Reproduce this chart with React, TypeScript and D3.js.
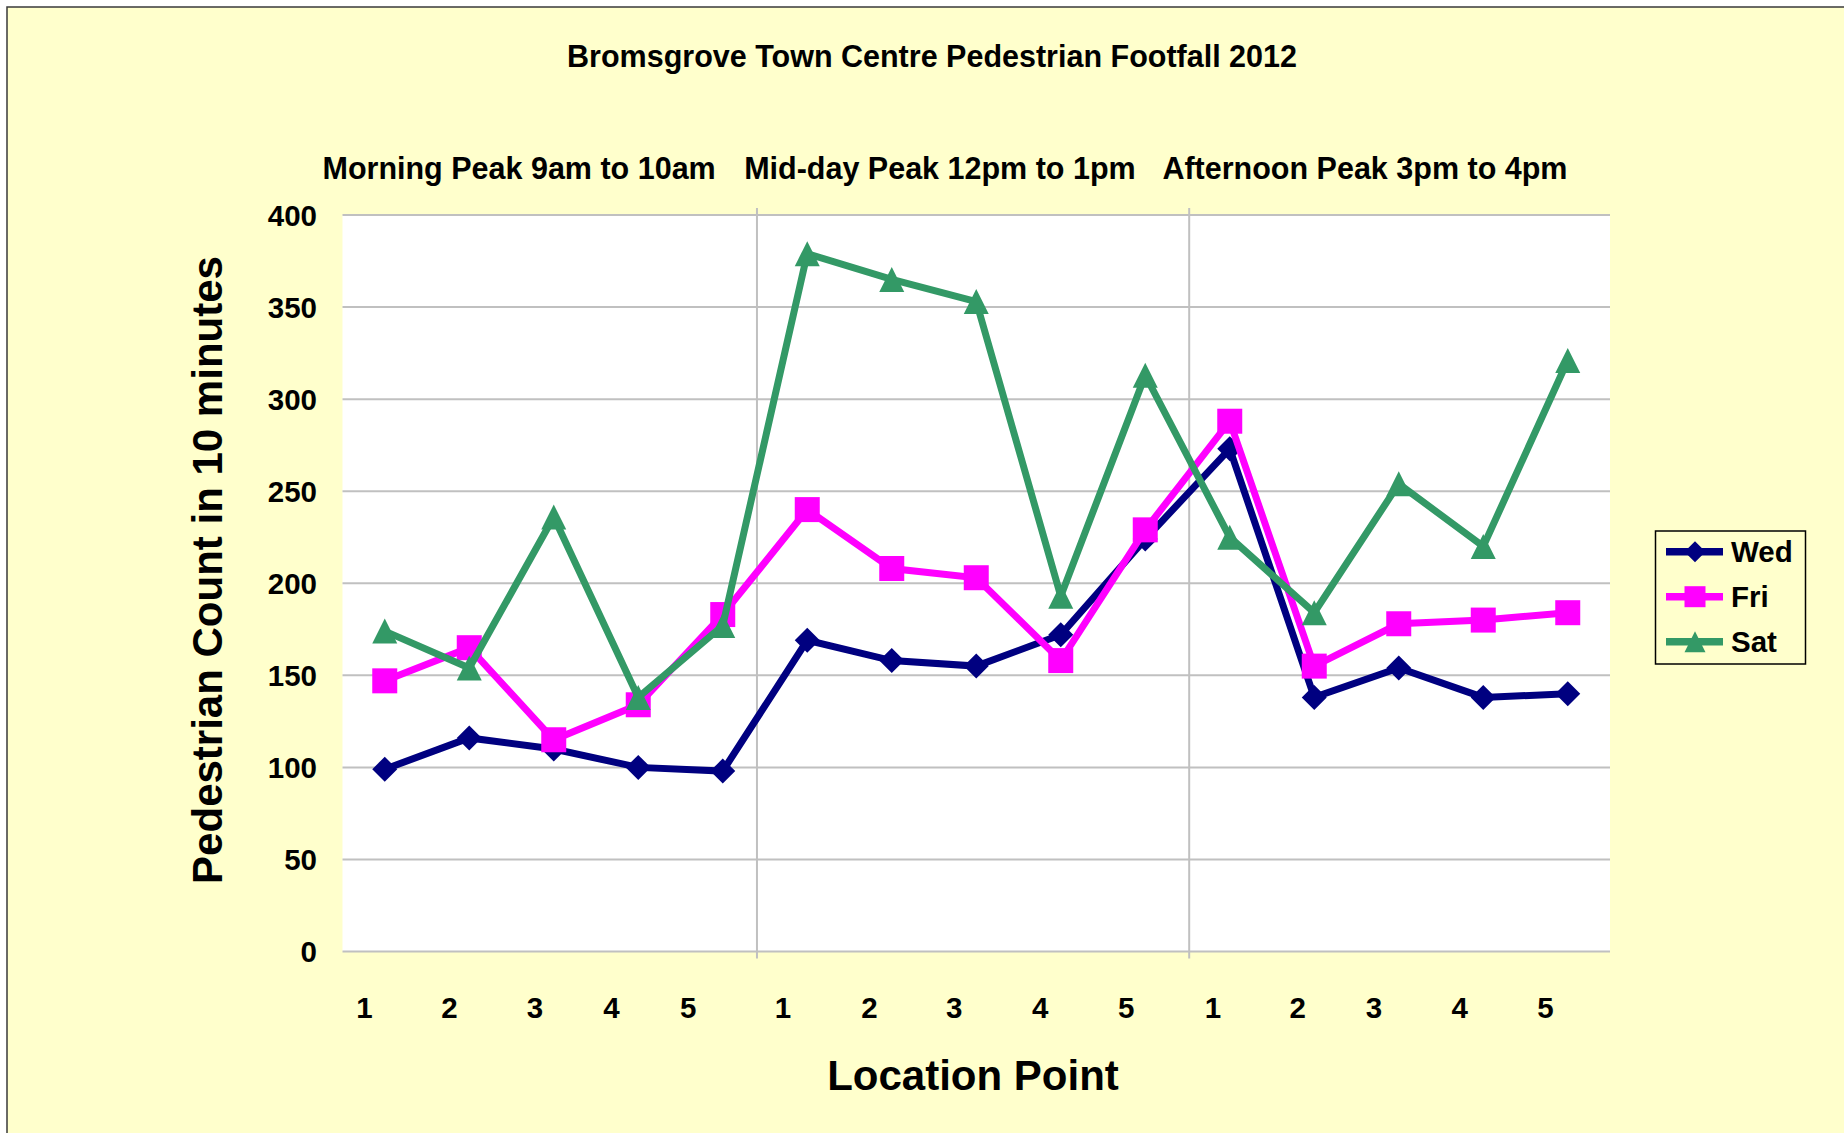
import React from "react";
import * as d3 from "d3";

const categories = ["1", "2", "3", "4", "5", "1", "2", "3", "4", "5", "1", "2", "3", "4", "5"];
const wed = [99, 116, 110, 100, 98, 169, 158, 155, 172, 224, 273, 138, 154, 138, 140];
const fri = [147, 165, 115, 134, 183, 240, 208, 203, 158, 229, 288, 155, 178, 180, 184];
const sat = [174, 154, 236, 138, 177, 379, 365, 353, 193, 313, 225, 184, 254, 220, 321];
const yTicks = [0, 50, 100, 150, 200, 250, 300, 350, 400];
// category-axis label anchor positions (in category units)
const labelPositions = [0.26, 1.265, 2.279, 3.182, 4.091, 5.212, 6.236, 7.24, 8.257, 9.276, 10.301, 11.305, 12.208, 13.222, 14.237];
const dividers = [4.905, 10.02];
const periods = ["Morning Peak 9am to 10am", "Mid-day Peak 12pm to 1pm", "Afternoon Peak 3pm to 4pm"];
const periodCenters = [2.09, 7.07, 12.1];
const seriesNames = ["Wed", "Fri", "Sat"];
const seriesColors = ["#000080", "#FF00FF", "#339966"];
const seriesShapes = ["diamond", "square", "triangle"];
const title = "Bromsgrove Town Centre Pedestrian Footfall 2012";
const yTitle = "Pedestrian Count in 10 minutes";
const xTitle = "Location Point";

const FONT = "'Liberation Sans', Arial, sans-serif";

function markerPath(shape: string, s: number) {
  const h = s / 2;
  if (shape === "diamond") return `M0,${-h}L${h},0L0,${h}L${-h},0Z`;
  if (shape === "square") return `M${-h},${-h}H${h}V${h}H${-h}Z`;
  return `M0,${-h}L${h},${h}L${-h},${h}Z`;
}

export default function App() {
  const W = 1844;
  const H = 1133;
  const plot = { left: 342.5, right: 1610, top: 215, bottom: 951.5 };
  const x = d3.scaleLinear().domain([0, categories.length]).range([plot.left, plot.right]);
  const y = d3.scaleLinear().domain([0, 400]).range([plot.bottom, plot.top]);
  const data = [wed, fri, sat];
  const line = d3
    .line<number>()
    .x((_, i) => x(i + 0.5))
    .y((d) => y(d));

  const legend = { x: 1655.5, y: 531, w: 150, h: 133 };
  const legendRows = [551.7, 596.7, 641.7];

  return (
    <svg
      width={W}
      height={H}
      style={{ position: "absolute", left: 0, top: 0, display: "block" }}
      fontFamily={FONT}
      fontWeight="bold"
    >
      <rect x={0} y={0} width={W} height={H} fill="#ffffff" />
      <rect x={7} y={7} width={W + 20} height={H + 20} fill="#FFFFCC" stroke="#3a3a3a" strokeWidth={1.5} />
      <text x={932} y={67} textAnchor="middle" fontSize={30.5} fill="#000">
        {title}
      </text>
      {periods.map((p, i) => (
        <text key={p} x={x(periodCenters[i])} y={179} textAnchor="middle" fontSize={30.5} fill="#000">
          {p}
        </text>
      ))}
      <rect x={plot.left} y={plot.top} width={plot.right - plot.left} height={plot.bottom - plot.top} fill="#ffffff" />
      {yTicks.map((t) => (
        <g key={t}>
          <line x1={plot.left} x2={plot.right} y1={y(t)} y2={y(t)} stroke="#C0C0C0" strokeWidth={2} />
          <text x={317} y={y(t) + 10.5} textAnchor="end" fontSize={29.5} fill="#000">
            {t}
          </text>
        </g>
      ))}
      {dividers.map((d) => (
        <line key={d} x1={x(d)} x2={x(d)} y1={plot.top - 7} y2={plot.bottom + 7} stroke="#C0C0C0" strokeWidth={2} />
      ))}
      {categories.map((c, i) => (
        <text key={i} x={x(labelPositions[i])} y={1018} textAnchor="middle" fontSize={29.5} fill="#000">
          {c}
        </text>
      ))}
      <text x={973} y={1090} textAnchor="middle" fontSize={42} fill="#000">
        {xTitle}
      </text>
      <text transform={`translate(222,570) rotate(-90)`} textAnchor="middle" fontSize={42} fill="#000">
        {yTitle}
      </text>
      {data.map((vals, si) => (
        <g key={seriesNames[si]}>
          <path d={line(vals) || ""} fill="none" stroke={seriesColors[si]} strokeWidth={7} strokeLinejoin="miter" />
          {vals.map((v, i) => (
            <path
              key={i}
              d={markerPath(seriesShapes[si], 25)}
              transform={`translate(${x(i + 0.5)},${y(v)})`}
              fill={seriesColors[si]}
            />
          ))}
        </g>
      ))}
      <rect x={legend.x} y={legend.y} width={legend.w} height={legend.h} fill="none" stroke="#000" strokeWidth={1.5} />
      {seriesNames.map((n, i) => (
        <g key={n}>
          <line x1={1666} x2={1723} y1={legendRows[i]} y2={legendRows[i]} stroke={seriesColors[i]} strokeWidth={7.5} />
          <path d={markerPath(seriesShapes[i], 21)} transform={`translate(1695,${legendRows[i]})`} fill={seriesColors[i]} />
          <text x={1731} y={legendRows[i] + 10.5} fontSize={29.5} fill="#000">
            {n}
          </text>
        </g>
      ))}
    </svg>
  );
}
